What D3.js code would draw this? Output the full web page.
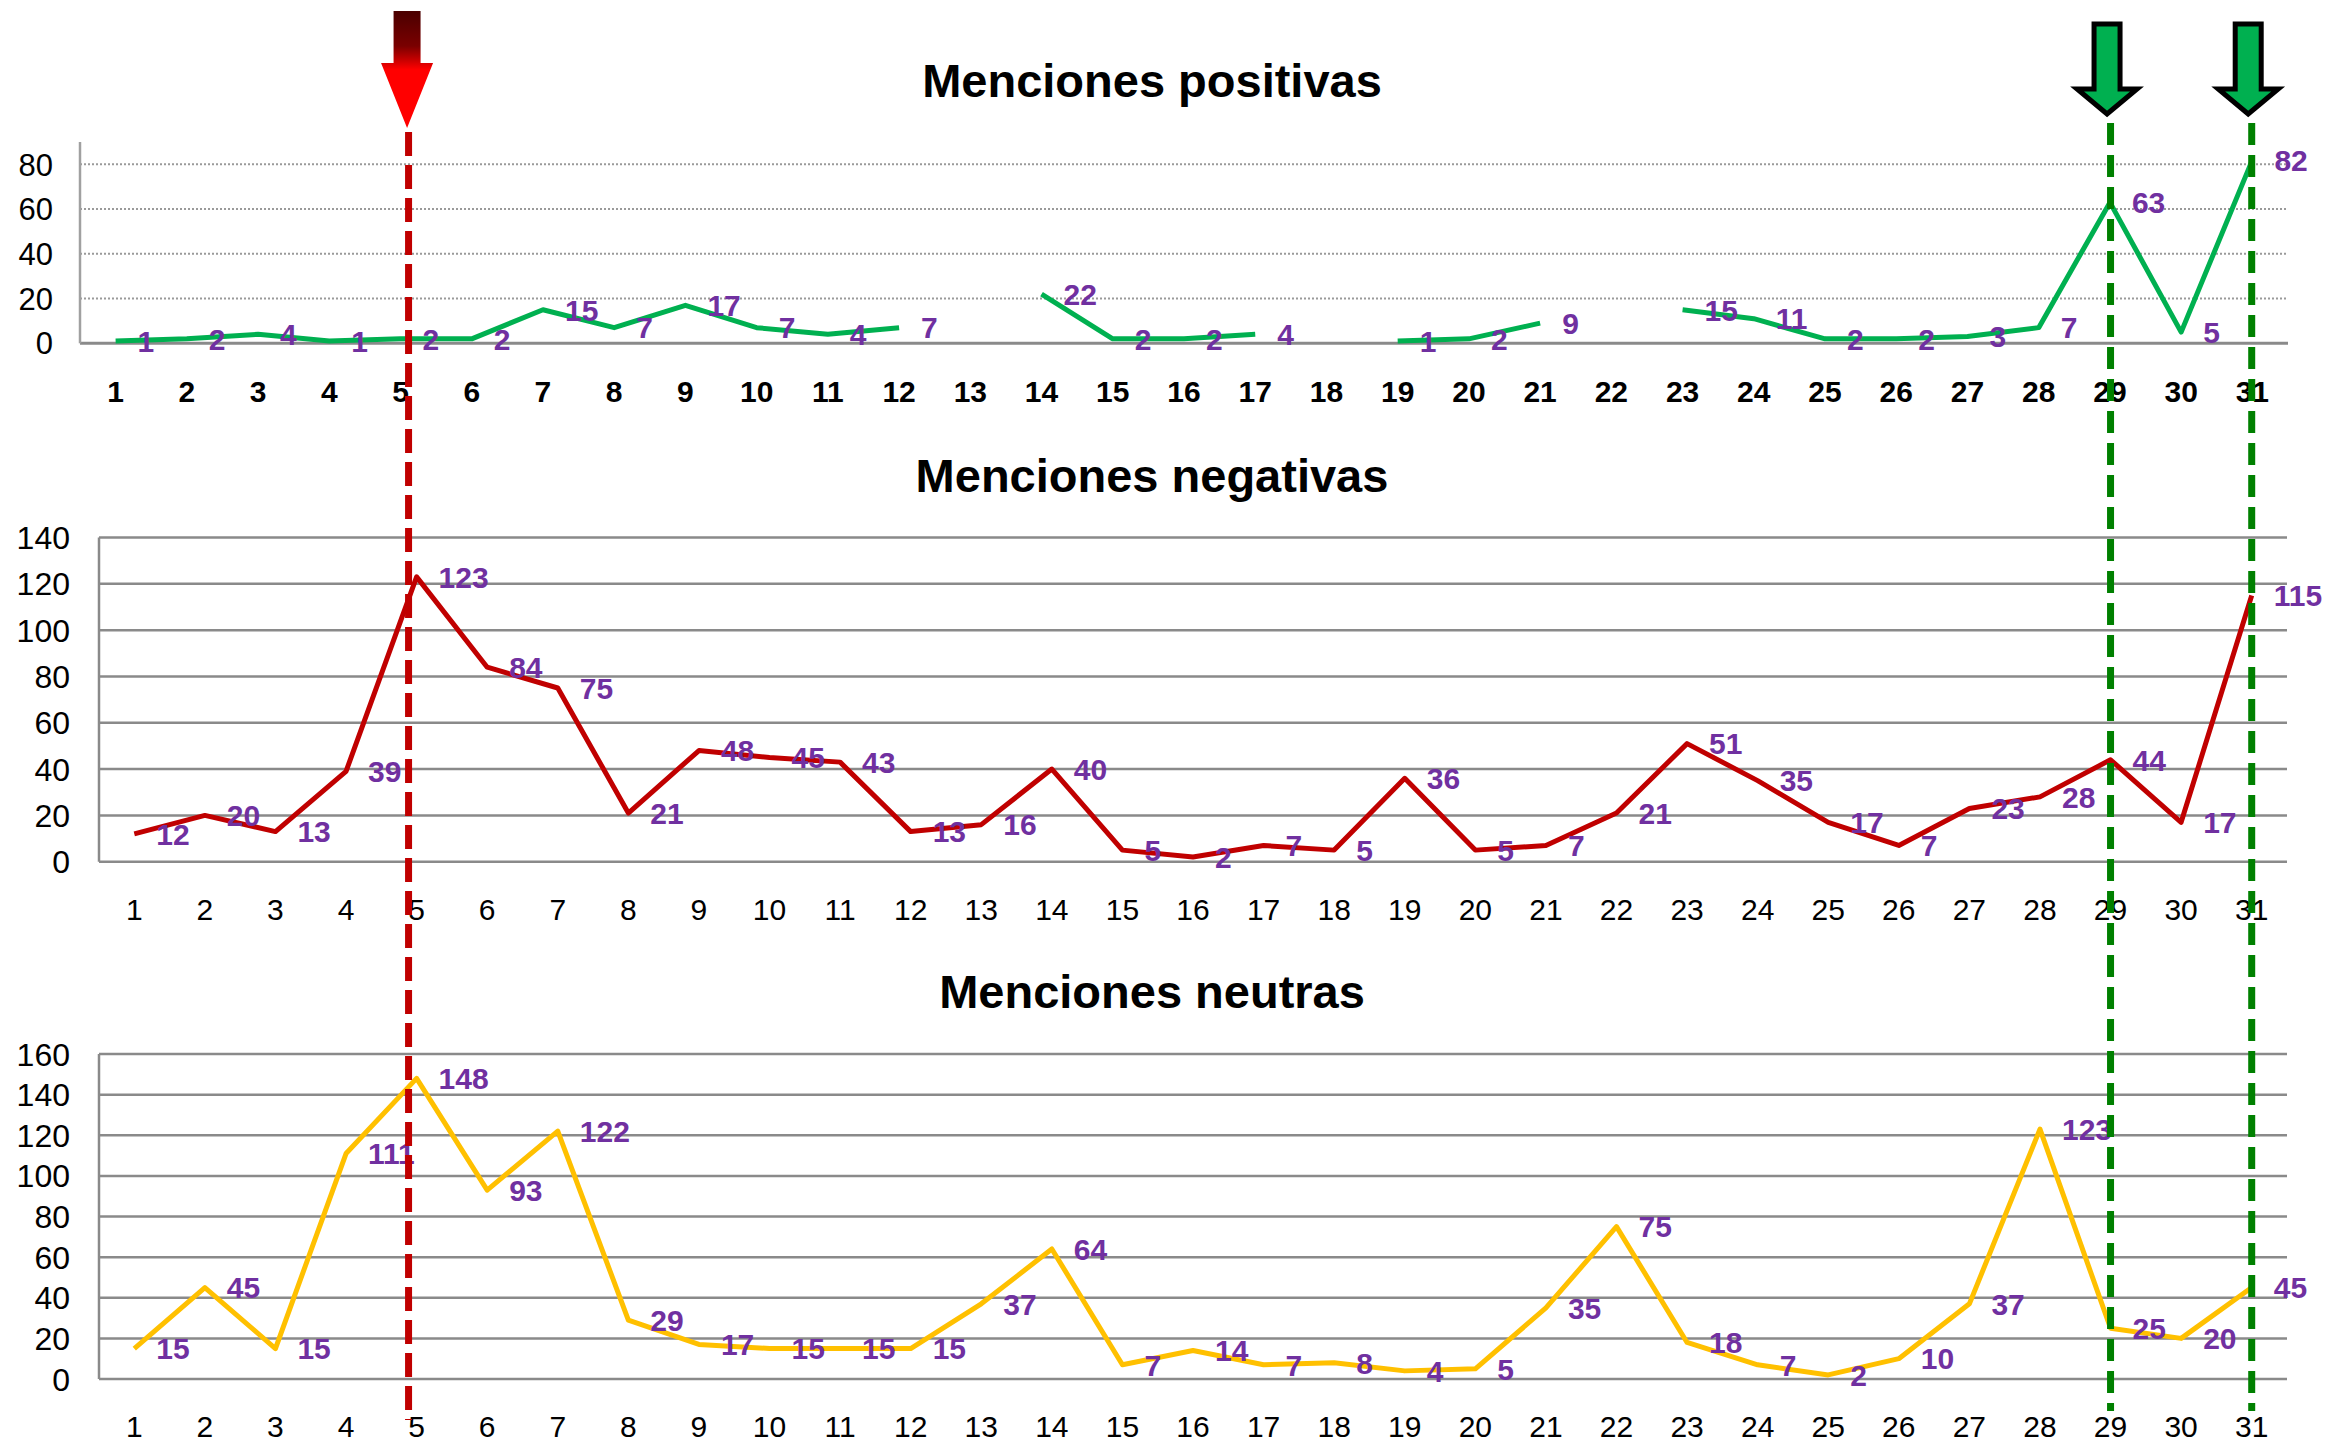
<!DOCTYPE html>
<meta charset="utf-8">
<style>
body{ margin:0; background:#fff; }
text{ font-family:"Liberation Sans", Arial, sans-serif; }
</style>
<body>
<script src="https://cdn.jsdelivr.net/npm/d3@7"></script>
<script>

// dias del mes (categorias)
var days = [1,2,3,4,5,6,7,8,9,10,11,12,13,14,15,16,17,18,19,20,21,22,23,24,25,26,27,28,29,30,31];

// menciones por dia (null = sin dato)
var positivas = [1,2,4,1,2,2,15,7,17,7,4,7,null,22,2,2,4,null,1,2,9,null,15,11,2,2,3,7,63,5,82];
var negativas = [12,20,13,39,123,84,75,21,48,45,43,13,16,40,5,2,7,5,36,5,7,21,51,35,17,7,23,28,44,17,115];
var neutras   = [15,45,15,111,148,93,122,29,17,15,15,15,37,64,7,14,7,8,4,5,35,75,18,7,2,10,37,123,25,20,45];

// ticks del eje y
var ticksPos = [0,20,40,60,80];
var ticksNeg = [0,20,40,60,80,100,120,140];
var ticksNeu = [0,20,40,60,80,100,120,140,160];

// dias marcados
var diaRojo = 5, diasVerdes = [29,31];

var W = 2336, H = 1443;
var svg = d3.select("body").append("svg")
    .attr("width", W)
    .attr("height", H);

var paneles = [
  {title:"Menciones positivas", titleY:97, values:positivas, color:"#00B050", ticks:ticksPos, max:90,
   left:80, right:2288, top:142, bottom:343.3, yLabelX:53, yFont:31, xLabelY:402, xBold:true, dotted:true},
  {title:"Menciones negativas", titleY:492, values:negativas, color:"#C00000", ticks:ticksNeg, max:140,
   left:99, right:2287, top:537.5, bottom:861.7, yLabelX:70, yFont:32, xLabelY:920, xBold:false, dotted:false},
  {title:"Menciones neutras", titleY:1008, values:neutras, color:"#FFC000", ticks:ticksNeu, max:160,
   left:99, right:2287, top:1054, bottom:1379, yLabelX:70, yFont:32, xLabelY:1437, xBold:false, dotted:false}
];

var escalas = paneles.map(dibujarPanel);

function dibujarPanel(p) {
  var x = d3.scaleBand().domain(days).range([p.left, p.right]);
  var cx = function(d) { return x(d) + x.bandwidth() / 2; };
  var y = d3.scaleLinear().domain([0, p.max]).range([p.bottom, p.top]);
  var g = svg.append("g");

  g.append("text")
      .attr("x", 1152).attr("y", p.titleY)
      .attr("text-anchor", "middle")
      .style("font-size", "47px").style("font-weight", "bold")
      .text(p.title);

  // rejilla
  g.selectAll(".grid")
      .data(p.ticks)
    .enter().append("line")
      .attr("x1", p.left).attr("x2", p.right)
      .attr("y1", function(d) { return y(d); })
      .attr("y2", function(d) { return y(d); })
      .attr("stroke", function(d) { return p.dotted && d > 0 ? "#9a9a9a" : "#8a8a8a"; })
      .attr("stroke-width", function(d) { return p.dotted ? (d > 0 ? 2 : 3) : 2.5; })
      .attr("stroke-dasharray", function(d) { return p.dotted && d > 0 ? "2,2" : null; });

  g.append("line")
      .attr("x1", p.left).attr("x2", p.left)
      .attr("y1", y(p.max)).attr("y2", p.bottom)
      .attr("stroke", p.dotted ? "#a0a0a0" : "#8a8a8a")
      .attr("stroke-width", 2.5);

  g.selectAll(".ylab")
      .data(p.ticks)
    .enter().append("text")
      .attr("x", p.yLabelX)
      .attr("y", function(d) { return y(d); })
      .attr("dy", "0.36em")
      .attr("text-anchor", "end")
      .style("font-size", p.yFont + "px")
      .text(function(d) { return d; });

  g.selectAll(".xlab")
      .data(days)
    .enter().append("text")
      .attr("x", cx)
      .attr("y", p.xLabelY)
      .attr("text-anchor", "middle")
      .style("font-size", "30px")
      .style("font-weight", p.xBold ? "bold" : "normal")
      .text(function(d) { return d; });

  var pts = days.map(function(d, i) { return {d: d, v: p.values[i]}; });
  var line = d3.line()
      .defined(function(d) { return d.v != null; })
      .x(function(d) { return cx(d.d); })
      .y(function(d) { return y(d.v); });

  g.append("path")
      .datum(pts)
      .attr("d", line)
      .attr("fill", "none")
      .attr("stroke", p.color)
      .attr("stroke-width", 5)
      .attr("stroke-linejoin", "round");

  g.selectAll(".lab")
      .data(pts.filter(function(d) { return d.v != null; }))
    .enter().append("text")
      .attr("x", function(d) { return cx(d.d) + 22; })
      .attr("y", function(d) { return y(d.v); })
      .attr("dy", "0.36em")
      .style("font-size", "30px").style("font-weight", "bold")
      .style("fill", "#7030A0")
      .text(function(d) { return d.v; });

  return {cx: cx};
}

// lineas verticales de referencia
var xPos = escalas[0].cx, xNeg = escalas[1].cx;
var xRojo = (xPos(diaRojo) + xNeg(diaRojo)) / 2;

svg.append("line")
    .attr("x1", xRojo).attr("x2", xRojo)
    .attr("y1", 132).attr("y2", 1420)
    .attr("stroke", "#C00000").attr("stroke-width", 7)
    .attr("stroke-dasharray", "24,9");

diasVerdes.forEach(function(d) {
  var xv = xNeg(d);
  svg.append("line")
      .attr("x1", xv).attr("x2", xv)
      .attr("y1", 123).attr("y2", 1411)
      .attr("stroke", "#008000").attr("stroke-width", 7)
      .attr("stroke-dasharray", "22,10");

  var c = xv - 3.5;
  svg.append("path")
      .attr("d", "M" + (c-13) + ",24 L" + (c+13) + ",24 L" + (c+13) + ",89 L" + (c+30) + ",89 L" + c + ",114 L" +
                 (c-30) + ",89 L" + (c-13) + ",89 Z")
      .attr("fill", "#00B050")
      .attr("stroke", "#000").attr("stroke-width", 5);
});

// flecha roja con degradado
var grad = svg.append("defs").append("linearGradient")
    .attr("id", "rojo").attr("x1", 0).attr("y1", 0).attr("x2", 0).attr("y2", 1);
[[0, "#4a0000"], [0.3, "#7a0000"], [0.42, "#c80000"], [0.5, "#ff0000"], [1, "#ff0000"]].forEach(function(s) {
  grad.append("stop").attr("offset", s[0]).attr("stop-color", s[1]);
});
var cr = xRojo - 1.5;
svg.append("path")
    .attr("d", "M" + (cr-13.5) + ",11 L" + (cr+13.5) + ",11 L" + (cr+13.5) + ",63 L" + (cr+26) + ",63 L" + cr + ",128 L" +
               (cr-26) + ",63 L" + (cr-13.5) + ",63 Z")
    .attr("fill", "url(#rojo)");

</script>
